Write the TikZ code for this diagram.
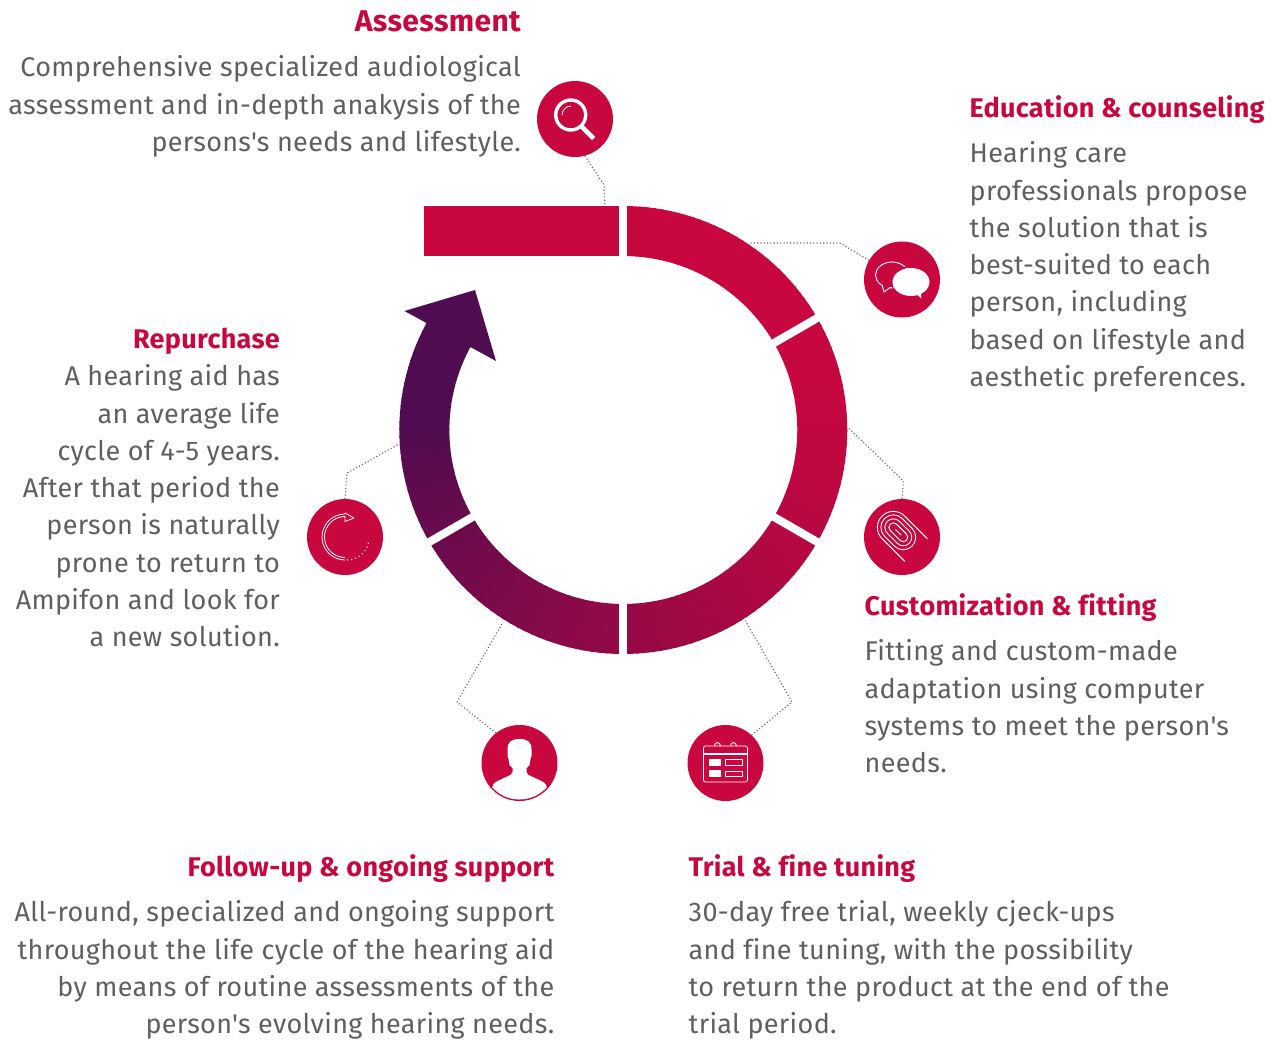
\documentclass[tikz,border=0pt]{standalone}
\usepackage{fontspec}
\setmainfont[Ligatures={TeXOff,NoCommon},LetterSpace=1.2]{Fira Sans}
\definecolor{ampRed}{HTML}{C8073F}
\definecolor{ampPurple}{HTML}{500C50}
\definecolor{ampText}{HTML}{5F5F5F}
\tikzset{
 headl/.style={font=\fontsize{27}{37.3}\selectfont\bfseries,text=ampRed,inner sep=0pt,anchor=west},
 headr/.style={headl,anchor=east},
 bodyl/.style={font=\fontsize{27}{37.3}\selectfont,text=ampText,inner sep=0pt,align=left,anchor=north west},
 bodyr/.style={bodyl,align=right,anchor=north east},
 icon/.style={circle,fill=ampRed,minimum size=76pt,inner sep=0pt},
 dots/.style={draw=ampText,line width=1.1pt,dash pattern=on 1.1pt off 2.2pt},
 wline/.style={draw=white,line width=.9pt},
}
\begin{document}
\begin{tikzpicture}[x=1pt,y=-1pt,line join=round]
 \useasboundingbox (0,0) rectangle (1281,1039);
 % ring
 \fill[ampRed] (424,206) rectangle (624,256);
 \begin{scope}[shift={(623.3,430)}]
 \foreach \a in {-90,-88,...,208}{
  \pgfmathsetmacro\mixval{100*min(1,(max(\a+30,1)/210)^1.5)}
  \fill[ampPurple!\mixval!ampRed] (\a:224) -- (\a+2.4:224) -- (\a+2.4:174) -- (\a:174) -- cycle;
 }
 \foreach \a in {-90,-30,30,90,150}\draw[white,line width=8pt] (\a:170) -- (\a:228);
 \end{scope}
 \fill[ampPurple] (404.5,311) -- (475,290) -- (496,361) -- cycle;
 % icons
 \node[icon] (iconAssess) at (575,119) {};
 \node[icon] (iconEdu) at (902,279.5) {};
 \node[icon] (iconFit) at (902,537) {};
 \node[icon] (iconTrial) at (725.5,763) {};
 \node[icon] (iconFollow) at (519.5,763) {};
 \node[icon] (iconRepeat) at (345,537) {};
 % connectors
 \coordinate (bendAssess) at (604,185);
 \coordinate (ringAssess) at (605,206);
 \coordinate (bendEdu) at (840,243);
 \coordinate (ringEdu) at (749,243);
 \coordinate (bendFit) at (903.5,481);
 \coordinate (ringFit) at (847.5,427);
 \coordinate (bendTrial) at (792,702);
 \coordinate (ringTrial) at (744.5,619);
 \coordinate (bendFollow) at (457,702);
 \coordinate (ringFollow) at (503,622);
 \coordinate (bendRepeat) at (347,473);
 \coordinate (ringRepeat) at (399,444);
 \draw[dots] (iconAssess.-75) -- (bendAssess) -- (ringAssess);
 \draw[dots] (iconEdu.150) -- (bendEdu) -- (ringEdu);
 \draw[dots] (iconFit.north) -- (bendFit) -- (ringFit);
 \draw[dots] (iconTrial.47) -- (bendTrial) -- (ringTrial);
 \draw[dots] (iconFollow.128) -- (bendFollow) -- (ringFollow);
 \draw[dots] (iconRepeat.north) -- (bendRepeat) -- (ringRepeat);
 % magnifier
 \begin{scope}[shift={(iconAssess.center)}]
 \draw[white,line width=3.4pt] (-4.3,-4) circle (15);
 \draw[white,line width=4.6pt] (6.5,7.5) -- (18.5,19.5);
 \draw[white,line width=.8pt] (-13,-4) .. controls (-13,-9) and (-9,-13) .. (-4,-13);
 \end{scope}
 % speech bubbles
 \begin{scope}[shift={(iconEdu.center)}]
 \draw[wline] (-10,-4.5) ellipse (16.5 and 13);
 \fill[ampRed] (-19,5) -- (-12,7) -- (-12,10) -- (-19,10) -- cycle;
 \draw[wline] (-20,5.5) -- (-18,12.5) -- (-12,8) -- (-7,8);
 \draw[ampRed,line width=1pt] (9,2.5) ellipse (19.5 and 15);
 \fill[white] (9,2.5) ellipse (18.5 and 14);
 \fill[white] (13,13) -- (19,19) -- (19,12) -- cycle;
 \end{scope}
 % fingerprint
 \begin{scope}[shift={(iconFit.center)},xshift=-3.7pt,yshift=4.7pt,rotate=-45]
 \foreach \r in {12.5,8.5,4.5}\draw[wline,rounded corners=\r pt] (-7-\r,-\r) rectangle (7+\r,\r);
 \draw[wline,line cap=round] (-4,0) -- (4,0);
 \draw[wline,line cap=round] (25,16) -- (-7,16) arc (90:270:16) -- (25,-16);
 \end{scope}
 % person
 \begin{scope}[shift={(iconFollow.center)}]
 \clip (0,0) circle (36.5);
 \fill[white] (-12,-14) .. controls (-12,-21) and (-8,-24) .. (0,-24) .. controls (8,-24) and (12,-21) .. (12,-14)
  -- (12,-7) -- (11,-4) -- (10,2) -- (7,5) -- (7,9) -- (9,12) -- (22,18) .. controls (26,20) and (27,22) .. (28,27)
  -- (28,40) -- (-28,40) -- (-28,27) .. controls (-27,22) and (-26,20) .. (-22,18) -- (-9,12) -- (-7,9) -- (-7,5) -- (-10,2) -- (-11,-4) -- (-12,-7) -- cycle;
 \end{scope}
 % calendar
 \begin{scope}[shift={(iconTrial.center)}]
 \draw[wline,rounded corners=1.5pt] (-22,-17) rectangle (22,19);
 \draw[white,line width=1.6pt] (-22,-9) -- (22,-9);
 \draw[wline] (-11,-17) .. controls (-11,-21.5) and (-5,-21.5) .. (-5,-17);
 \draw[wline] (5,-17) .. controls (5,-21.5) and (11,-21.5) .. (11,-17);
 \fill[white] (-17,-4) rectangle (-5,3);
 \fill[white] (-17,7) rectangle (-5,14);
 \draw[wline] (0,-3.3) rectangle (17,2.3);
 \draw[wline] (0,8) rectangle (17,13.5);
 \end{scope}
 % repeat arrow
 \begin{scope}[shift={(iconRepeat.center)}]
 \draw[white,line width=.8pt] (0,23) arc (90:270:23) -- (0,-24) -- (9,-19) -- (0,-15.5) -- (0,-20.5) arc (270:90:20.5);
 \draw[white,line width=1.1pt,dash pattern=on 1.1pt off 3pt] (2,23) arc (90:10:22);
 \end{scope}
 % texts
 \node[headr,font=\fontsize{30}{37.3}\selectfont\bfseries] (headAssess) at (521,21.5) {Assessment};
 \node[bodyr] (textAssess) at (521,55.5) {Comprehensive specialized audiological\\assessment and in-depth anakysis of the\\persons's needs and lifestyle.};
 \node[headl] (headEdu) at (969.5,110) {Education \& counseling};
 \node[bodyl] (textEdu) at (969.5,141.5) {Hearing care\\professionals propose\\the solution that is\\best-suited to each\\person, including\\based on lifestyle and\\aesthetic preferences.};
 \node[headl] (headFit) at (864.5,608) {Customization \& fitting};
 \node[bodyl] (textFit) at (864.5,639.5) {Fitting and custom-made\\adaptation using computer\\systems to meet the person's\\needs.};
 \node[headr] (headRepeat) at (280,341) {Repurchase};
 \node[bodyr] (textRepeat) at (280,364.5) {A hearing aid has\\an average life\\cycle of 4-5 years.\\After that period the\\person is naturally\\prone to return to\\Ampifon and look for\\a new solution.};
 \node[headr] (headFollow) at (554.5,869) {Follow-up \& ongoing support};
 \node[bodyr] (textFollow) at (554.5,900.5) {All-round, specialized and ongoing support\\throughout the life cycle of the hearing aid\\by means of routine assessments of the\\person's evolving hearing needs.};
 \node[headl] (headTrial) at (688.5,869) {Trial \& fine tuning};
 \node[bodyl] (textTrial) at (688.5,900.5) {30-day free trial, weekly cjeck-ups\\and fine tuning, with the possibility\\to return the product at the end of the\\trial period.};
\end{tikzpicture}
\end{document}
